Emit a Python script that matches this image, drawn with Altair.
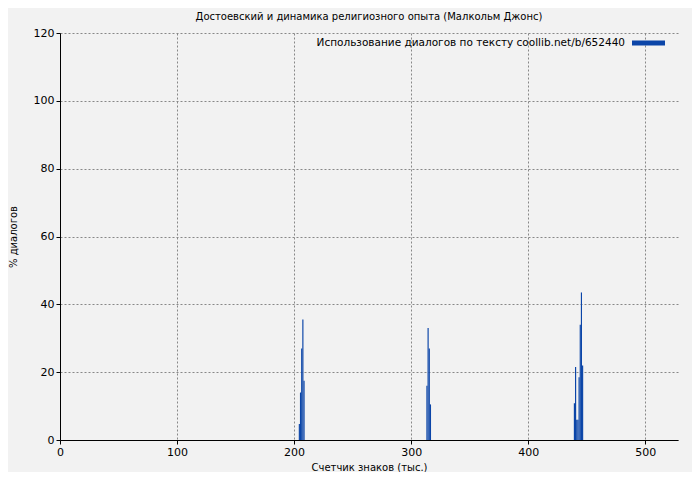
import altair as alt
import pandas as pd

positions = [204, 205, 206, 207, 208,
             313, 314, 315, 316,
             439, 440, 441, 442, 443, 444, 445, 446]
values = [4.7, 14.0, 27.0, 35.5, 17.5,
          16.0, 33.0, 27.0, 10.5,
          10.8, 21.5, 6.0, 6.0, 18.5, 34.0, 43.5, 22.0]

title = "Достоевский и динамика религиозного опыта (Малкольм Джонс)"
legend_label = "Использование диалогов по тексту coollib.net/b/652440"
x_title = "Счетчик знаков (тыс.)"
y_title = "% диалогов"

df = pd.DataFrame({"x": positions, "y": values})

W, H = 618, 407
FONT = "DejaVu Sans"

bars = alt.Chart(df).transform_calculate(x2="datum.x + 1").mark_rect(
    color="#0b45a8"
).encode(
    x=alt.X("x:Q", scale=alt.Scale(domain=[0, 528], nice=False, zero=False),
            axis=alt.Axis(values=[0, 100, 200, 300, 400, 500], title=x_title,
                          grid=True, gridColor="#888888", gridDash=[2, 2],
                          domainColor="#000000", tickColor="#000000", tickSize=4,
                          labelFlush=False,
                          labelFont=FONT, labelFontSize=11, labelColor="#000000",
                          titleFont=FONT, titleFontSize=10, titleFontWeight="normal",
                          titleColor="#000000", titlePadding=5)),
    x2="x2:Q",
    y=alt.Y("y:Q", scale=alt.Scale(domain=[0, 120], nice=False),
            axis=alt.Axis(values=[0, 20, 40, 60, 80, 100, 120], title=y_title,
                          grid=True, gridColor="#888888", gridDash=[2, 2],
                          domainColor="#000000", tickColor="#000000", tickSize=4,
                          labelFlush=False,
                          labelFont=FONT, labelFontSize=11, labelColor="#000000",
                          titleFont=FONT, titleFontSize=10, titleFontWeight="normal",
                          titleColor="#000000", titlePadding=15)),
    y2=alt.datum(0),
)

leg_text = alt.Chart(pd.DataFrame({"t": [legend_label]})).mark_text(
    align="right", baseline="middle", font=FONT, fontSize=10.5, color="#000000"
).encode(text="t:N", x=alt.value(565), y=alt.value(10))

leg_rule = alt.Chart(pd.DataFrame({"t": [legend_label]})).mark_rule(
    color="#0b45a8", strokeWidth=5
).encode(x=alt.value(572), x2=alt.value(605), y=alt.value(10))

chart = alt.layer(bars, leg_text, leg_rule).properties(
    width=W, height=H,
    title=alt.TitleParams(title, font=FONT, fontSize=10, fontWeight="normal",
                          color="#000000", offset=5),
    background="#f2f2f2",
    autosize=alt.AutoSizeParams(type="none"),
    padding={"left": 52, "top": 25, "right": 14, "bottom": 32},
).configure_view(stroke=None)

chart.save("out.html", embed_options={"renderer": "svg", "actions": False})
